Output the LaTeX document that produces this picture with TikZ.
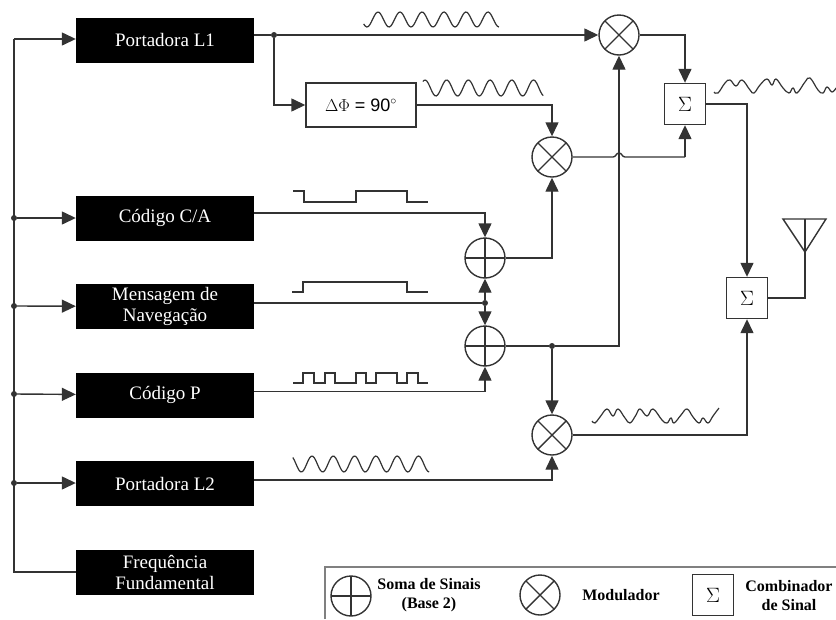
\documentclass[tikz,border=0pt]{standalone}
\usepackage{fontspec}
\setmainfont{Liberation Serif}
\newfontfamily\phasefont{Liberation Sans}
\usetikzlibrary{arrows.meta,calc}
\definecolor{ink}{HTML}{333333}
\tikzstyle{line} = [draw=ink, line width=1.4pt, -{Triangle[length=14pt,width=13pt]}]
\tikzstyle{plain} = [draw=ink, line width=1.4pt]
\tikzstyle{wave} = [draw=ink, line width=1.2pt, smooth, tension=.7, samples=90]
\tikzstyle{pulse} = [draw=ink, line width=1.2pt]
\tikzstyle{source} = [fill=black, text=white, minimum width=178pt, minimum height=45pt, inner sep=0pt, align=center, font=\fontsize{19}{21}\selectfont]
\tikzstyle{junction} = [fill=ink, circle, inner sep=0pt, minimum size=6pt]
\tikzstyle{combiner} = [draw=ink, line width=1.4pt, rectangle, minimum width=41pt, minimum height=41pt, inner sep=0pt, font=\fontsize{22}{22}\selectfont]
\tikzstyle{adder} = [draw=ink, line width=1.4pt, circle, minimum size=40pt, inner sep=0pt, path picture={
    \draw[ink, line width=1.4pt] (path picture bounding box.north) -- (path picture bounding box.south);
    \draw[ink, line width=1.4pt] (path picture bounding box.west) -- (path picture bounding box.east);}]
\tikzstyle{modulator} = [draw=ink, line width=1.4pt, circle, minimum size=40pt, inner sep=0pt, path picture={
    \draw[ink, line width=1.4pt] (path picture bounding box.north west) -- (path picture bounding box.south east);
    \draw[ink, line width=1.4pt] (path picture bounding box.north east) -- (path picture bounding box.south west);}]
\tikzstyle{legend} = [align=center, inner sep=0pt, font=\fontsize{16}{19}\selectfont\bfseries]
\begin{document}
\begin{tikzpicture}[x=1pt, y=-1pt, node distance=88.5pt]
        \useasboundingbox (0,0) rectangle (836,619);
        % sources
        \node[source] (portL1) at (165,40) {Portadora L1};
        \node[source, below of=portL1, node distance=178pt] (codeCA) {Código C/A};
        \node[source, below of=codeCA] (message) {Mensagem de\\Navegação};
        \node[source, below of=message] (codeP) {Código P};
        \node[source, below of=codeP] (portL2) {Portadora L2};
        \node[source, below of=portL2] (fundamental) {Frequência\\Fundamental};
        \coordinate (trunkTop) at (14,39);
        \coordinate (trunkEnd) at (14,572);
        \node[junction] (dotCA) at (14,218) {};
        \node[junction] (dotMsg) at (14,306) {};
        \node[junction] (dotP) at (14,394) {};
        \node[junction] (dotL2) at (14,483) {};
        % blocks
        \node[junction] (dotL1) at (274,35) {};
        \node[modulator] (modA) at (619,35) {};
        \node[draw=ink, line width=1.4pt, minimum width=110pt, minimum height=44pt, inner sep=0pt] (phase) at (361,105) {\fontsize{18}{18}\phasefont $\Delta\Phi$ = 90$^{\circ}$};
        \node[combiner] (sigmaA) at (685,104) {$\Sigma$};
        \node[modulator] (modB) at (552,157) {};
        \node[adder] (adderA) at (485,258) {};
        \node[junction] (dotSum) at (485,303) {};
        \node[adder] (adderB) at (485,346) {};
        \node[junction] (dotOut) at (552,346) {};
        \node[modulator] (modC) at (552,435) {};
        \node[combiner] (sigmaB) at (747,298) {$\Sigma$};
        \coordinate (antTop) at (805,219);
        \coordinate (antTip) at (805,252);
        \coordinate (bump) at (619,157);
        % trunk
        \draw[plain] (fundamental.west |- trunkEnd) -- (trunkEnd) -- (trunkTop);
        \path[line] (trunkTop) -- (portL1.west |- trunkTop);
        \path[line] (dotCA) -- (codeCA);
        \path[line] (dotMsg) -- (message);
        \path[line] (dotP) -- (codeP);
        \path[line] (dotL2) -- (portL2.west |- dotL2);
        % carrier paths
        \draw[plain] (portL1.east |- dotL1) -- (dotL1);
        \path[line] (dotL1) -- (modA);
        \path[line] (dotL1) |- (phase);
        \path[line] (phase) -| (modB);
        \path[line] (modA) -| (sigmaA);
        \draw[plain] (modB) -- ($(bump)+(-6,0)$) .. controls ($(bump)+(-3,0)$) and ($(bump)+(-3,-4)$) .. ($(bump)+(0,-4)$) .. controls ($(bump)+(3,-4)$) and ($(bump)+(3,0)$) .. ($(bump)+(6,0)$) -- ($(sigmaA.south |- bump)$);
        \path[line] (sigmaA.south |- bump) -- (sigmaA);
        \draw[plain] (sigmaA) -| ($(sigmaB.north)+(0,-30)$);
        \path[line] ($(sigmaB.north)+(0,-30)$) -- (sigmaB);
        % code paths
        \path[line] ([yshift=5pt]codeCA.east) -| (adderA);
        \draw[plain] (message.east |- dotSum) -- (dotSum);
        \path[line] (dotSum) -- (adderA);
        \path[line] (dotSum) -- (adderB);
        \path[line] ([yshift=3.5pt]codeP.east) -| (adderB);
        \path[line] (adderA) -| (modB);
        \draw[plain] (adderB) -- (dotOut);
        \path[line] (dotOut) -| (modA);
        \path[line] (dotOut) -- (modC);
        \path[line] ([yshift=3.5pt]portL2.east) -| (modC);
        \path[line] (modC) -| (sigmaB);
        % antenna
        \draw[plain] (sigmaB) -| (antTop);
        \draw[plain, line join=miter] (antTop) +(-22,0) -- +(21,0) -- (antTip) -- cycle;
        % signals
        \draw[wave, domain=-.65:5.5] plot ({378+22*\x},{19.5-7.5*cos(360*\x)});
        \draw[wave, domain=-.1:5.45] plot ({425+21.7*\x},{88-8*cos(360*\x)});
        \draw[wave, domain=-.9:5.5] plot ({312+21.3*\x},{464-8*cos(360*\x)});
        \draw[wave] plot coordinates {(714,92) (718,93) (725,83) (730,80) (736,86) (742,80) (750,90) (754,93) (760,85) (767,79) (772,85) (776,79) (783,88) (789,93) (793,88) (797,93) (805,82) (810,78) (818,90) (823,93) (827,87) (832,92) (836,88)};
        \draw[wave] plot coordinates {(592,421) (595,423) (600,417) (607,409) (613,416) (618,409) (625,418) (630,423) (636,415) (640,409) (647,416) (653,409) (662,420) (667,423) (671,418) (674,423) (681,415) (687,409) (693,417) (699,423) (703,418) (708,423) (713,416) (719,408)};
        \draw[pulse] (293,191) -- (304,191) -- (304,202) -- (356,202) -- (356,191) -- (407,191) -- (407,202) -- (428,202);
        \draw[pulse] (292,292) -- (303,292) -- (303,282) -- (407,282) -- (407,292) -- (428,292);
        \draw[pulse] (293,383) -- (303,383) -- (303,373) -- (314,373) -- (314,383) -- (325,383) -- (325,373) -- (335,373) -- (335,383) -- (356,383) -- (356,373) -- (366,373) -- (366,383) -- (376,383) -- (376,373) -- (397,373) -- (397,383) -- (407,383) -- (407,373) -- (418,373) -- (418,383) -- (428,383);
        % legend
        \draw[draw=gray, line width=1.4pt] (325,619) -- (325,567) -- (836,567);
        \node[adder] (keyAdder) at (351,596) {};
        \node[legend] (keyAdderText) at (429,595) {Soma de Sinais\\(Base 2)};
        \node[modulator] (keyMod) at (540,595) {};
        \node[legend] (keyModText) at (621,595) {Modulador};
        \node[combiner] (keySigma) at (713,595) {$\Sigma$};
        \node[legend] (keySigmaText) at (789,596) {Combinador\\de Sinal};
\end{tikzpicture}
\end{document}
